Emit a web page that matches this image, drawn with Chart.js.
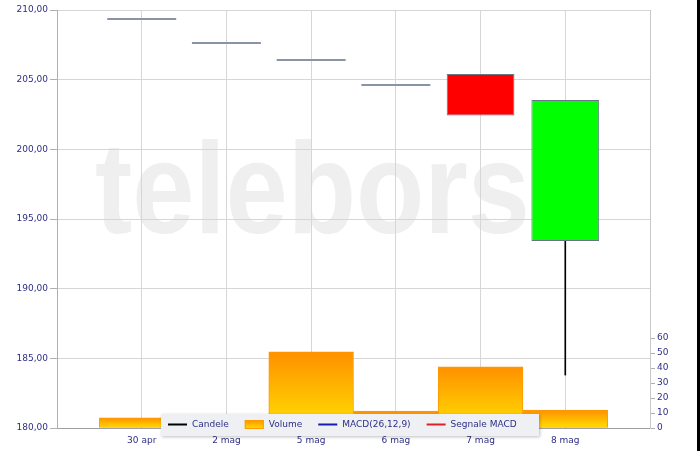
<!DOCTYPE html>
<html>
<head>
<meta charset="utf-8">
<script src="https://cdn.jsdelivr.net/npm/chart.js@4"></script>
<style>
  body { margin: 0; background: #000; }
  #wrap { width: 697px; height: 451px; background: #fff; }
</style>
</head>
<body>
<div id="wrap"><canvas id="myChart" width="697" height="451"></canvas></div>
<script>
var categories = ["30 apr", "2 mag", "5 mag", "6 mag", "7 mag", "8 mag"];
var openV  = [209.35, 207.63, 206.41, 204.62, 205.40, 193.42];
var closeV = [209.35, 207.63, 206.41, 204.62, 202.42, 203.54];
var highV  = [209.35, 207.63, 206.41, 204.62, 205.40, 203.54];
var lowV   = [209.35, 207.63, 206.41, 204.62, 202.42, 183.80];
var volumeV = [6.7, 5, 50.7, 11.3, 40.7, 12];
var volumeTicks = [0, 10, 20, 30, 40, 50, 60];
var legendLabels = ["Candele", "Volume", "MACD(26,12,9)", "Segnale MACD"];
var legendColors = ["#000000", "#ffa000", "#1a1ab0", "#e02020"];

var textColor = "#2e2e86";
var tickFont = { family: "DejaVu Sans", size: 9 };

// empty slot at both ends of the category axis
function pad(a) { return [null].concat(a, [null]); }

var bodies = openV.map(function (o, i) { return o !== closeV[i] ? [o, closeV[i]] : null; });
var bodyColors = openV.map(function (o, i) { return closeV[i] < o ? "#ff0000" : "#00ff00"; });
var lowerWicks = lowV.map(function (l, i) {
    var b = Math.min(openV[i], closeV[i]);
    return l < b ? [l, b] : null;
});
var upperWicks = highV.map(function (h, i) {
    var t = Math.max(openV[i], closeV[i]);
    return h > t ? [t, h] : null;
});
var dojis = openV.map(function (o, i) { return o === closeV[i] ? o : null; });

var watermark = {
    id: "watermark",
    beforeDraw: function (chart) {
        var ctx = chart.ctx;
        ctx.save();
        ctx.fillStyle = "#efefef";
        ctx.font = "bold 130px 'Liberation Sans'";
        ctx.textBaseline = "alphabetic";
        ctx.translate(95, 233);
        ctx.scale(0.86, 1);
        ctx.fillText("teleborsa", 0, 0);
        ctx.restore();
    }
};

var legendBox = {
    id: "legendBox",
    afterDraw: function (chart) {
        var ctx = chart.ctx;
        ctx.save();
        ctx.font = "9px 'DejaVu Sans'";
        ctx.shadowColor = "rgba(0,0,0,0.25)";
        ctx.shadowBlur = 3;
        ctx.shadowOffsetX = 1;
        ctx.shadowOffsetY = 1;
        ctx.fillStyle = "#eef0f4";
        ctx.fillRect(161, 414, 378, 22);
        ctx.shadowColor = "transparent";
        var x = 168, y = 424.5;
        legendLabels.forEach(function (lab, i) {
            if (i === 1) {
                var g = ctx.createLinearGradient(0, 420, 0, 429);
                g.addColorStop(0, "#ff9000");
                g.addColorStop(1, "#ffe000");
                ctx.fillStyle = g;
                ctx.fillRect(x, 420, 19, 9);
                ctx.strokeStyle = "#ff9900";
                ctx.lineWidth = 1;
                ctx.strokeRect(x + 0.5, 420.5, 18, 8);
            } else {
                ctx.strokeStyle = legendColors[i];
                ctx.lineWidth = 2;
                ctx.beginPath();
                ctx.moveTo(x, y);
                ctx.lineTo(x + 19, y);
                ctx.stroke();
            }
            x += 24;
            ctx.fillStyle = textColor;
            ctx.textBaseline = "middle";
            ctx.fillText(lab, x, y);
            x += ctx.measureText(lab).width + 16;
        });
        ctx.restore();
    }
};

new Chart("myChart", {
    data: {
        labels: [""].concat(categories, [""]),
        datasets: [{
            type: "line",
            label: "Doji",
            data: pad(dojis),
            showLine: false,
            pointStyle: "line",
            pointRadius: 34.5,
            pointHoverRadius: 34.5,
            borderColor: "#8a94a8",
            borderWidth: 2,
            yAxisID: "y",
            order: 0
        }, {
            type: "bar",
            label: "Candele",
            data: pad(bodies),
            backgroundColor: pad(bodyColors),
            borderColor: "#6b7388",
            borderWidth: 1,
            borderSkipped: false,
            barPercentage: 0.8,
            categoryPercentage: 1,
            grouped: false,
            yAxisID: "y",
            order: 1
        }, {
            type: "bar",
            label: "Wick low",
            data: pad(lowerWicks),
            backgroundColor: "#000000",
            barThickness: 1,
            grouped: false,
            yAxisID: "y",
            order: 2
        }, {
            type: "bar",
            label: "Wick high",
            data: pad(upperWicks),
            backgroundColor: "#000000",
            barThickness: 1,
            grouped: false,
            yAxisID: "y",
            order: 2
        }, {
            type: "bar",
            label: "Volume",
            data: pad(volumeV),
            backgroundColor: function (c) {
                var s = c.chart.scales.y2;
                if (!s || c.raw == null) return "#ffb000";
                var top = s.getPixelForValue(c.raw), bottom = s.getPixelForValue(0);
                if (!isFinite(top) || bottom - top < 1) return "#ffb000";
                var g = c.chart.ctx.createLinearGradient(0, top, 0, bottom);
                g.addColorStop(0, "#ff9000");
                g.addColorStop(1, "#ffe000");
                return g;
            },
            borderColor: "#ff9900",
            borderWidth: 1,
            borderSkipped: false,
            barPercentage: 1,
            categoryPercentage: 1,
            grouped: false,
            yAxisID: "y2",
            order: 3
        }]
    },
    options: {
        responsive: false,
        animation: false,
        layout: { autoPadding: false, padding: { top: 10, left: 0, right: 0, bottom: 0 } },
        plugins: {
            legend: { display: false },
            tooltip: { enabled: false }
        },
        scales: {
            x: {
                type: "category",
                offset: false,
                grid: { offset: false, color: "#d6d6d6", drawTicks: false },
                border: { color: "#a0a0a0" },
                ticks: { color: textColor, font: tickFont, padding: 7, maxRotation: 0, autoSkip: false },
                afterFit: function (s) { s.height = 23; }
            },
            y: {
                position: "left",
                min: 180,
                max: 210,
                ticks: {
                    stepSize: 5,
                    color: textColor,
                    font: tickFont,
                    padding: 2,
                    callback: function (v) { return v.toFixed(2).replace(".", ","); }
                },
                grid: { color: "#d6d6d6", tickLength: 7, tickColor: "#b0b0b0" },
                border: { color: "#b0b0b0" },
                afterFit: function (s) { s.width = 57; }
            },
            y2: {
                position: "right",
                min: 0,
                max: 60 * 418 / 90,
                afterBuildTicks: function (s) {
                    s.ticks = volumeTicks.map(function (v) { return { value: v }; });
                },
                ticks: { color: textColor, font: tickFont, padding: 2 },
                grid: { drawOnChartArea: false, tickLength: 5, color: "#b0b0b0" },
                border: { color: "#c8c8c8" },
                afterFit: function (s) { s.width = 47; }
            }
        }
    },
    plugins: [watermark, legendBox]
});
</script>
</body>
</html>
